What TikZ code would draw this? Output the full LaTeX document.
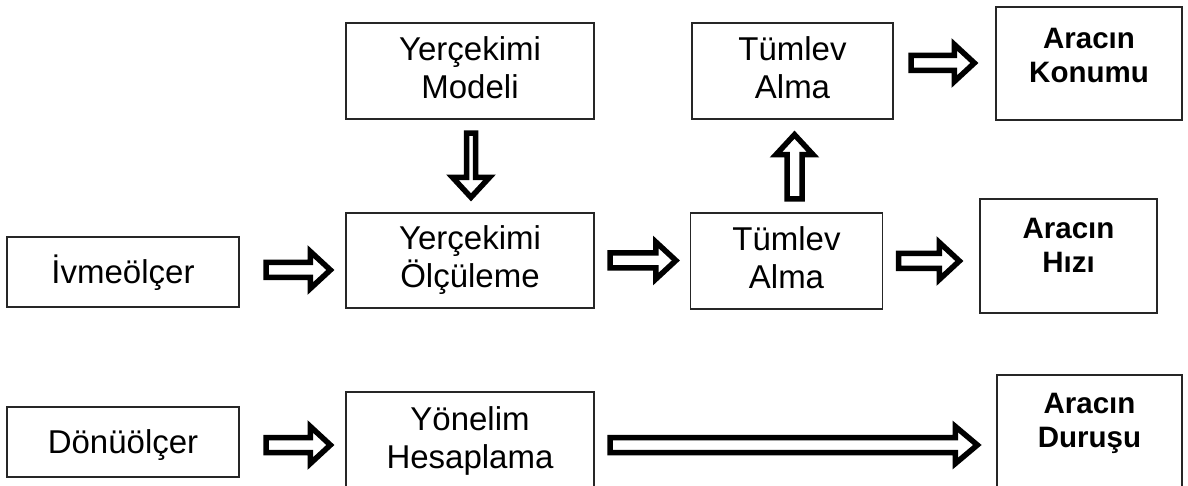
\documentclass[tikz,border=0pt]{standalone}
\usepackage{fontspec}
\setmainfont{Liberation Sans}
\usetikzlibrary{calc}
\tikzset{
  box/.style={draw=black!85, line width=1.3pt, rectangle, inner sep=0pt, align=center,
    font=\fontsize{33}{38}\selectfont,
    execute at begin node={\rule{0pt}{0.92em}},
    execute at end node={\rule[-0.2em]{0pt}{0pt}}},
  outbox/.style={draw=black!85, line width=1.3pt, rectangle, inner sep=0pt},
  outtext/.style={align=center, inner sep=0pt, font=\bfseries\fontsize{29.5}{34}\selectfont},
  blockarrow/.style={draw=black, fill=white, line width=5.5pt, line join=miter, miter limit=10},
}
\newcommand\blockarr[5]{%
  \draw[blockarrow] let \p1=#1, \p2=#2,
      \n1={atan2(\y2-\y1,\x2-\x1)}, \n2={veclen(\x2-\x1,\y2-\y1)} in
    [shift={(\p1)}, rotate=\n1]
    (0pt,-#3pt) -- ({(\n2-#5)*1pt},-#3pt) -- ({(\n2-#5)*1pt},-#4pt) -- ({\n2*1pt},0pt)
    -- ({(\n2-#5)*1pt},#4pt) -- ({(\n2-#5)*1pt},#3pt) -- (0pt,#3pt) -- cycle;}
\begin{document}
\begin{tikzpicture}[x=1pt,y=-1pt]
\useasboundingbox (0,0) rectangle (1188,486);
\fill[white] (0,0) rectangle (1188,486);
\clip (0,0) rectangle (1188,486);

\node[box, minimum width=232, minimum height=70] (ivme) at (123,272) {İvmeölçer};
\node[box, minimum width=248, minimum height=96] (model) at (470,71) {Yerçekimi\\Modeli};
\node[box, minimum width=248, minimum height=95] (olcum) at (470,260.5) {Yerçekimi\\Ölçüleme};
\node[box, minimum width=201, minimum height=96] (tum1) at (792.5,71) {Tümlev\\Alma};
\node[box, minimum width=192, minimum height=96] (tum2) at (786.5,261) {Tümlev\\Alma};
\node[outbox, minimum width=186, minimum height=113,
      label={[outtext,yshift=8.5pt]center:{Aracın\\Konumu}}] (konum) at (1089,63.5) {};
\node[outbox, minimum width=177, minimum height=114,
      label={[outtext,yshift=11pt]center:{Aracın\\Hızı}}] (hiz) at (1068.5,256) {};
\node[box, minimum width=232, minimum height=70] (donu) at (123,442) {Dönüölçer};
\node[box, minimum width=248, minimum height=97] (yonelim) at (470,440.5) {Yönelim\\Hesaplama};
\node[outbox, minimum width=185, minimum height=114,
      label={[outtext,yshift=9pt]center:{Aracın\\Duruşu}}] (durus) at (1089.5,432) {};

\blockarr{($(ivme.east)+(26.5,-2)$)}{($(olcum.west |- ivme.east)+(-15,-2)$)}{7.5}{18.5}{20}
\blockarr{($(olcum.east)+(15.5,0)$)}{($(tum2.west |- olcum.east)+(-14,0)$)}{7.5}{18.5}{20}
\blockarr{($(tum2.east)+(15.5,0)$)}{($(hiz.west |- tum2.east)+(-20,0)$)}{7.5}{18.5}{20}
\blockarr{($(tum1.east)+(17.5,-8)$)}{($(konum.west |- tum1.east)+(-21,-8)$)}{7.5}{18.5}{20}
\blockarr{($(model.south)+(1,13.5)$)}{($(olcum.north -| model.south)+(1,-15)$)}{4.5}{18.5}{20}
\blockarr{($(tum2.north)+(8,-13.5)$)}{($(tum1.south -| tum2.north)+(8,15)$)}{7.5}{18.5}{20}
\blockarr{($(donu.east)+(26.5,3)$)}{($(yonelim.west |- donu.east)+(-15,3)$)}{7.5}{18.5}{20}
\blockarr{($(yonelim.east |- donu.east)+(15.5,3)$)}{($(durus.west |- donu.east)+(-19,3)$)}{7.5}{18.5}{22}
\end{tikzpicture}
\end{document}
